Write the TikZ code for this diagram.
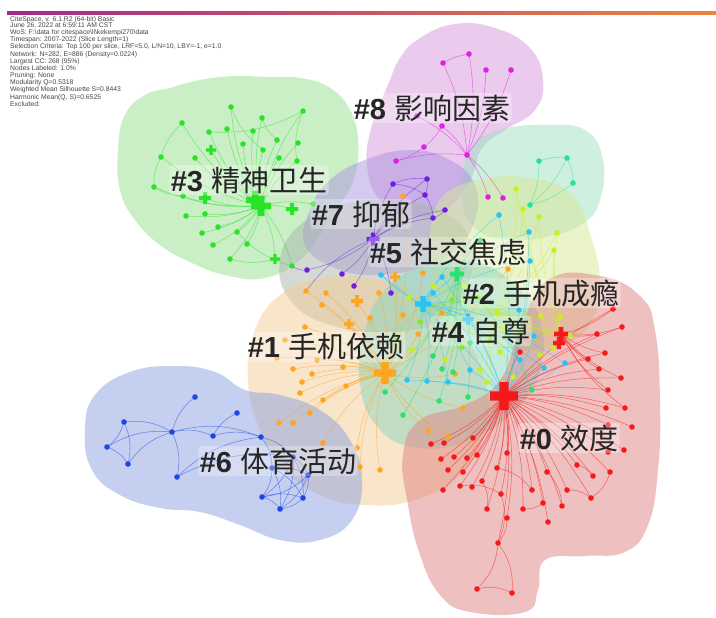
\documentclass[tikz,border=0pt]{standalone}
\usepackage{fontspec}
\setmainfont{Liberation Sans}
\newfontfamily\cjk{Noto Sans CJK SC}
\definecolor{cG}{RGB}{40,228,40}
\definecolor{cR}{RGB}{245,25,25}
\definecolor{cB}{RGB}{30,70,230}
\definecolor{cP}{RGB}{110,30,220}
\definecolor{cM}{RGB}{225,30,225}
\definecolor{cT}{RGB}{40,225,150}
\definecolor{cO}{RGB}{255,165,30}
\definecolor{cC}{RGB}{40,195,245}
\definecolor{cE}{RGB}{40,225,110}
\definecolor{cY}{RGB}{200,240,30}
\definecolor{cL}{RGB}{130,235,40}
\definecolor{bG}{RGB}{150,222,140}
\definecolor{bM}{RGB}{215,150,220}
\definecolor{bT}{RGB}{160,225,195}
\definecolor{bP}{RGB}{170,150,225}
\definecolor{bF}{RGB}{170,180,175}
\definecolor{bY}{RGB}{215,232,150}
\definecolor{bC}{RGB}{140,215,190}
\definecolor{bO}{RGB}{245,205,150}
\definecolor{bB}{RGB}{140,160,225}
\definecolor{bR}{RGB}{225,130,130}
\definecolor{barA}{RGB}{165,40,140}
\definecolor{barB}{RGB}{205,65,95}
\definecolor{barC}{RGB}{238,130,60}
\tikzset{
  blob/.style={fill=#1, fill opacity=0.5},
  edg/.style={draw=#1, line width=0.55pt, draw opacity=0.55},
  lab/.style={font=\fontsize{29}{31}\selectfont, text=black!85, fill=white, fill opacity=0.3, text opacity=1, inner sep=1.5pt, rounded corners=3pt},
}
\newcommand\plusmark[3]{\fill[#3, shift={(#1)}] (-#2/2,-#2/6) rectangle (#2/2,#2/6) (-#2/6,-#2/2) rectangle (#2/6,#2/2);}
\begin{document}
\begin{tikzpicture}[x=1pt,y=-1pt]
\useasboundingbox (0,0) rectangle (716,618);
\fill[white] (0,0) rectangle (716,618);
% top bar
\shade[left color=barA, middle color=barB, right color=barC] (7,12) rectangle (716,14.6);
% info text
\node[anchor=north west, align=left, inner sep=0pt, text=black!72, font=\fontsize{6.8}{6.25}\selectfont] (info) at (10,16.5) {CiteSpace, v. 6.1.R2 (64-bit) Basic\\
June 26, 2022 at 6:59:11 AM CST\\
WoS: F:\textbackslash data for citespace\textbackslash li\textbackslash kekempi270\textbackslash data\\
Timespan: 2007-2022 (Slice Length=1)\\
Selection Criteria: Top 100 per slice, LRF=5.0, L/N=10, LBY=-1, e=1.0\\
Network: N=282, E=886 (Density=0.0224)\\
Largest CC: 268 (95\%)\\
Nodes Labeled: 1.0\%\\
Pruning: None\\
Modularity Q=0.5318\\
Weighted Mean Silhouette S=0.8443\\
Harmonic Mean(Q, S)=0.6525\\
Excluded:\\
\hspace*{9pt}:};
% ---------------- cluster areas
\fill[blob=bG] plot[smooth cycle, tension=0.75] coordinates {(118,150) (125,115) (145,95) (170,88) (200,80) (235,76) (265,77) (300,78) (330,88) (350,110) (358,140) (355,175) (340,205) (320,235) (300,260) (265,278) (225,275) (190,262) (160,245) (135,220) (120,190)};
\fill[blob=bM] plot[smooth cycle, tension=0.75] coordinates {(420,38) (455,24) (495,28) (530,48) (543,80) (535,110) (505,130) (482,148) (470,180) (445,210) (410,216) (380,200) (367,165) (372,125) (388,85) (400,58)};
\fill[blob=bT] plot[smooth cycle, tension=0.75] coordinates {(470,150) (500,130) (545,125) (585,130) (603,160) (600,200) (585,222) (555,235) (515,240) (480,232) (462,200)};
\fill[blob=bP] plot[smooth cycle, tension=0.75] coordinates {(310,210) (330,180) (365,160) (410,150) (450,160) (475,185) (475,220) (455,250) (420,268) (375,275) (335,268) (305,245)};
\fill[blob=bF] plot[smooth cycle, tension=0.75] coordinates {(280,260) (300,225) (340,205) (390,200) (440,210) (470,240) (468,285) (440,320) (390,332) (330,325) (290,300)};
\fill[blob=bY] plot[smooth cycle, tension=0.75] coordinates {(440,200) (480,180) (530,178) (572,195) (592,240) (600,285) (592,320) (565,345) (520,350) (470,335) (440,300) (430,250)};
\fill[blob=bO] plot[smooth cycle, tension=0.75] coordinates {(255,330) (280,295) (320,278) (370,278) (420,295) (460,330) (485,380) (485,430) (460,475) (415,500) (365,505) (320,495) (285,470) (260,430) (248,380)};
\fill[blob=bC] plot[smooth cycle, tension=0.75] coordinates {(365,330) (385,290) (425,265) (475,262) (515,285) (540,320) (540,370) (515,410) (470,440) (420,448) (380,430) (360,385)};
\fill[blob=bB] plot[smooth cycle, tension=0.75] coordinates {(85,430) (95,395) (130,372) (175,366) (215,372) (245,390) (280,395) (320,410) (350,440) (362,480) (352,520) (320,540) (280,540) (240,525) (200,512) (160,508) (120,495) (92,470)};
\fill[blob=bR] plot[smooth cycle, tension=0.75] coordinates {(548,280) (600,276) (640,296) (655,330) (660,400) (658,470) (648,525) (625,552) (585,556) (545,560) (538,590) (525,612) (470,612) (440,595) (420,555) (408,505) (403,455) (420,420) (465,405) (500,380) (520,330)};
% ---------------- node positions
\coordinate (gh) at (261,206);
\foreach \x/\y [count=\i] in {231/107,303/111,262/118,182/123,209/132,227/129,253/131,277/140,298/143,243/144,263/150,161/157,195/158,279/158,297/161,154/187,183/196,313/204,186/216,205/214,218/227,237/232,202/233,213/245,247/244,230/259,292/266,211/150,205/198,292/209,275/259}
  \coordinate (g\i) at (\x,\y);
\coordinate (rh) at (504,396);
\coordinate (rk) at (561,334);
\foreach \x/\y [count=\i] in {613/309,622/327,597/334,520/352,605/353,588/359,599/369,621/378,608/390,625/408,606/408,632/427,608/425,624/450,608/452,431/444,444/443,473/438,441/459,454/457,467/458,477/455,507/453,448/470,463/472,497/468,443/490,460/486,472/487,482/481,577/465,547/472,593/476,610/472,532/490,567/490,591/498,501/494,543/503,562/506,523/509,487/509,507/518,548/522,498/543,477/589,512/593}
  \coordinate (r\i) at (\x,\y);
\foreach \x/\y [count=\i] in {195/397,124/422,237/413,172/432,213/436,261/437,107/447,128/464,293/457,272/468,177/477,308/475,262/497,303/498,280/509}
  \coordinate (b\i) at (\x,\y);
\coordinate (ph) at (373,239);
\foreach \x/\y [count=\i] in {393/184,427/179,425/195,445/210,433/218,307/270,342/274,354/286,391/293}
  \coordinate (p\i) at (\x,\y);
\foreach \x/\y [count=\i] in {443/63,469/54,486/70,511/70,417/116,442/126,424/147,396/161,467/155,488/197,503/198}
  \coordinate (m\i) at (\x,\y);
\foreach \x/\y [count=\i] in {539/161,567/158,573/183,530/205}
  \coordinate (t\i) at (\x,\y);
\coordinate (oh) at (385,373);
\foreach \x/\y [count=\i] in {306/291,326/293,322/305,379/293,305/327,370/318,285/340,277/358,317/360,343/367,293/369,312/374,302/382,346/386,300/393,323/400,310/413,279/423,293/423,323/443,357/448,380/470,360/467,403/196,403/315,442/313,418/334,423/273,508/269,455/374,463/408,428/431,448/437,357/301,349/324,395/277}
  \coordinate (o\i) at (\x,\y);
\coordinate (ch) at (423,304);
\foreach \x/\y [count=\i] in {499/215,529/232,381/275,442/277,433/293,530/261,519/310,534/336,565/363,544/368,520/360,407/380,427/381,448/382,470/370,468/319}
  \coordinate (c\i) at (\x,\y);
\coordinate (eh) at (457,274);
\foreach \x/\y [count=\i] in {470/343,433/356,442/369,453/372,385/392,439/401,468/397,403/415,532/390,480/240}
  \coordinate (e\i) at (\x,\y);
\foreach \x/\y [count=\i] in {516/189,523/209,539/217,554/250,557/233,433/286,409/298,464/286,497/312,503/328,541/316,560/317,570/336,412/350,445/360,480/370,500/352,553/348,487/382,513/377,493/398,540/355}
  \coordinate (y\i) at (\x,\y);
\foreach \x/\y [count=\i] in {452/300,478/298,490/340,420/322,462/347,395/340,520/335}
  \coordinate (l\i) at (\x,\y);
% ---------------- connectors
\foreach \i in {1,...,31} \draw[edg=cG] (gh) to[bend left=12] (g\i);
\foreach \a/\b in {4/12,1/11,2/15,16/17,12/16,3/8,5/2,26/31,22/27}
  \draw[edg=cG] (g\a) to[bend right=15] (g\b);
\foreach \i in {1,...,45} \draw[edg=cR] (rh) to[bend left=10] (r\i);
\foreach \i in {1,2,3,5,6,7,8,9,10} \draw[edg=cR] (rk) to[bend right=12] (r\i);
\foreach \a/\b in {45/46,46/47,45/47,43/45,38/45,31/33,36/37,39/41,26/35,32/40,34/37,30/42,28/38}
  \draw[edg=cR] (r\a) to[bend left=20] (r\b);
\foreach \a/\b in {2/4,2/7,2/8,7/8,7/4,8/4,4/1,4/5,5/3,5/6,4/6,4/11,11/6,11/9,6/9,6/10,9/10,9/12,9/13,9/14,9/15,10/12,10/13,10/14,10/15,12/13,12/14,12/15,13/14,13/15,14/15}
  \draw[edg=cB] (b\a) to[bend left=18] (b\b);
\foreach \i in {1,...,9} \draw[edg=cP] (ph) to[bend left=12] (p\i);
\foreach \a/\b in {1/2,2/3,3/5,4/5,1/3}
  \draw[edg=cP] (p\a) to[bend left=15] (p\b);
\draw[edg=cP] (p6) to[bend left=20] (g27);
\draw[edg=cP] (ph) to[bend right=15] (o1);
\foreach \a/\b in {1/2,1/9,2/9,3/9,4/9,5/9,6/9,6/7,7/8,8/9,9/10,9/11}
  \draw[edg=cM] (m\a) to[bend left=10] (m\b);
\foreach \a/\b in {1/2,2/3,1/4,2/4,3/4}
  \draw[edg=cT] (t\a) to[bend left=12] (t\b);
\foreach \i in {1,...,36} \draw[edg=cO] (oh) to[bend right=12] (o\i);
\foreach \i in {1,...,16} \draw[edg=cC] (ch) to[bend left=10] (c\i);
\foreach \i in {1,...,10} \draw[edg=cE] (eh) to[bend left=10] (e\i);
\foreach \i in {1,...,22} \draw[edg=cY] (y9) to[bend right=10] (y\i);
\foreach \i in {1,...,7} \draw[edg=cL] (ch) to[bend right=10] (l\i);
\foreach \i in {1,...,13} \draw[edg=cY] (rk) to[bend left=8] (y\i);
\foreach \i in {1,...,16} \draw[edg=cC] (rh) to[bend right=8] (c\i);
% ---------------- nodes
\foreach \i in {1,...,27} \fill[cG] (g\i) circle (2.8);
\plusmark{g28}{10}{cG}\plusmark{g29}{12}{cG}\plusmark{g30}{12}{cG}\plusmark{g31}{10}{cG}
\plusmark{gh}{20}{cG}
\fill[cG, shift={(255,200)}] (-9,-3) rectangle (9,3) (-3,-9) rectangle (3,9);
\foreach \i in {1,...,47} \fill[cR] (r\i) circle (2.8);
\foreach \i in {1,...,15} \fill[cB] (b\i) circle (2.8);
\foreach \i in {1,...,9} \fill[cP] (p\i) circle (2.8);
\plusmark{ph}{13}{cP}
\foreach \i in {1,...,11} \fill[cM] (m\i) circle (2.8);
\foreach \i in {1,...,4} \fill[cT] (t\i) circle (2.8);
\foreach \i in {1,...,33} \fill[cO] (o\i) circle (2.8);
\plusmark{o34}{12}{cO}\plusmark{o35}{10}{cO}\plusmark{o36}{10}{cO}
\foreach \i in {1,...,22} \fill[cY] (y\i) circle (2.8);
\foreach \i in {1,...,7} \fill[cL] (l\i) circle (2.8);
\foreach \i in {1,...,15} \fill[cC] (c\i) circle (2.8);
\plusmark{c16}{11}{cC}
\foreach \i in {1,...,10} \fill[cE] (e\i) circle (2.8);
\plusmark{eh}{14}{cE}
\plusmark{ch}{16}{cC}
\plusmark{oh}{22}{cO}
\plusmark{rk}{14}{cR}
\fill[cR, shift={(559,343)}] (-6,-2.2) rectangle (6,2.2) (-2.2,-6) rectangle (2.2,6);
\plusmark{rh}{28}{cR}
% ---------------- labels
\node[lab] (L8) at (432,108) {\textbf{\#8} {\cjk 影响因素}};
\node[lab] (L3) at (249,180) {\textbf{\#3} {\cjk 精神卫生}};
\node[lab] (L7) at (361,214) {\textbf{\#7} {\cjk 抑郁}};
\node[lab] (L5) at (448,252) {\textbf{\#5} {\cjk 社交焦虑}};
\node[lab] (L2) at (541,293) {\textbf{\#2} {\cjk 手机成瘾}};
\node[lab] (L4) at (481,331) {\textbf{\#4} {\cjk 自尊}};
\node[lab] (L1) at (326,347) {\textbf{\#1} {\cjk 手机依赖}};
\node[lab] (L6) at (278,461) {\textbf{\#6} {\cjk 体育活动}};
\node[lab] (L0) at (569,438) {\textbf{\#0} {\cjk 效度}};
\end{tikzpicture}
\end{document}
